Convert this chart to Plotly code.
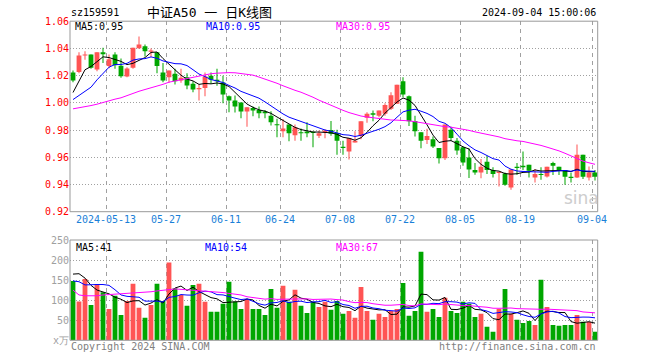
import pandas as pd
import plotly.graph_objects as go

# ---------------- data ----------------
holidays = ["2024-05-01", "2024-05-02", "2024-05-03", "2024-06-10"]
dates = [d.strftime("%Y-%m-%d") for d in pd.bdate_range("2024-04-30", "2024-09-04")
         if d.strftime("%Y-%m-%d") not in holidays]

opens = [1.0223, 1.0226, 1.0348, 1.0356, 1.0245, 1.0371, 1.0270, 1.0356, 1.0273, 1.0194,
         1.0258, 1.0402, 1.0415, 1.0376, 1.0371, 1.0223, 1.0189, 1.0214, 1.0164, 1.0189,
         1.0140, 1.0100, 1.0110, 1.0199, 1.0169, 1.0150, 1.0049, 1.0017, 1.0002, 0.9936,
         0.9963, 0.9948, 0.9936, 0.9906, 0.9840, 0.9791, 0.9840, 0.9761, 0.9783, 0.9789,
         0.9783, 0.9759, 0.9783, 0.9801, 0.9779, 0.9678, 0.9643, 0.9708, 0.9757, 0.9890,
         0.9923, 0.9906, 0.9919, 0.9956, 0.9993, 1.0159, 1.0049, 0.9866, 0.9783, 0.9727,
         0.9732, 0.9668, 0.9592, 0.9803, 0.9722, 0.9673, 0.9598, 0.9506, 0.9489, 0.9568,
         0.9506, 0.9485, 0.9481, 0.9378, 0.9531, 0.9538, 0.9545, 0.9452, 0.9477, 0.9459,
         0.9558, 0.9531, 0.9506, 0.9452, 0.9452, 0.9619, 0.9452, 0.9489]
highs = [1.0238, 1.0371, 1.0380, 1.0356, 1.0371, 1.0405, 1.0356, 1.0371, 1.0326, 1.0262,
         1.0405, 1.0488, 1.0429, 1.0400, 1.0371, 1.0292, 1.0238, 1.0250, 1.0250, 1.0218,
         1.0159, 1.0135, 1.0223, 1.0223, 1.0250, 1.0199, 1.0054, 1.0054, 1.0002, 0.9968,
         0.9973, 0.9973, 0.9948, 0.9938, 0.9884, 0.9882, 0.9840, 0.9840, 0.9811, 0.9857,
         0.9789, 0.9796, 0.9806, 0.9866, 0.9803, 0.9722, 0.9742, 0.9791, 0.9864, 0.9931,
         0.9943, 0.9943, 0.9997, 1.0078, 1.0133, 1.0189, 1.0054, 0.9906, 0.9783, 0.9809,
         0.9752, 0.9668, 0.9840, 0.9825, 0.9742, 0.9678, 0.9666, 0.9558, 0.9587, 0.9612,
         0.9526, 0.9489, 0.9489, 0.9514, 0.9558, 0.9643, 0.9545, 0.9514, 0.9526, 0.9531,
         0.9568, 0.9531, 0.9506, 0.9489, 0.9693, 0.9619, 0.9533, 0.9506]
lows = [1.0152, 1.0218, 1.0317, 1.0250, 1.0233, 1.0292, 1.0255, 1.0250, 1.0184, 1.0189,
        1.0250, 1.0398, 1.0341, 1.0336, 1.0218, 1.0152, 1.0148, 1.0135, 1.0148, 1.0100,
        1.0078, 1.0017, 1.0049, 1.0140, 1.0126, 0.9997, 0.9931, 0.9929, 0.9887, 0.9825,
        0.9901, 0.9887, 0.9887, 0.9833, 0.9747, 0.9747, 0.9717, 0.9722, 0.9722, 0.9747,
        0.9673, 0.9742, 0.9740, 0.9759, 0.9619, 0.9619, 0.9584, 0.9708, 0.9732, 0.9853,
        0.9864, 0.9894, 0.9906, 0.9948, 0.9993, 1.0041, 0.9830, 0.9752, 0.9666, 0.9698,
        0.9668, 0.9555, 0.9580, 0.9722, 0.9619, 0.9538, 0.9447, 0.9472, 0.9445, 0.9477,
        0.9452, 0.9386, 0.9391, 0.9361, 0.9472, 0.9506, 0.9452, 0.9415, 0.9434, 0.9452,
        0.9469, 0.9469, 0.9398, 0.9415, 0.9448, 0.9440, 0.9430, 0.9430]
closes = [1.0164, 1.0348, 1.0356, 1.0258, 1.0371, 1.0358, 1.0321, 1.0277, 1.0196, 1.0253,
          1.0405, 1.0429, 1.0380, 1.0385, 1.0270, 1.0164, 1.0238, 1.0159, 1.0184, 1.0127,
          1.0098, 1.0110, 1.0194, 1.0169, 1.0159, 1.0061, 1.0017, 0.9973, 0.9936, 0.9968,
          0.9943, 0.9923, 0.9923, 0.9857, 0.9835, 0.9811, 0.9776, 0.9820, 0.9776, 0.9776,
          0.9779, 0.9776, 0.9796, 0.9772, 0.9722, 0.9668, 0.9742, 0.9722, 0.9864, 0.9919,
          0.9912, 0.9943, 0.9985, 1.0056, 1.0133, 1.0061, 0.9864, 0.9791, 0.9722, 0.9757,
          0.9680, 0.9592, 0.9840, 0.9742, 0.9649, 0.9562, 0.9510, 0.9489, 0.9531, 0.9506,
          0.9477, 0.9489, 0.9398, 0.9510, 0.9521, 0.9526, 0.9501, 0.9477, 0.9469, 0.9531,
          0.9538, 0.9501, 0.9457, 0.9448, 0.9619, 0.9457, 0.9489, 0.9457]
volumes = [148, 97, 153, 88, 140, 120, 78, 111, 63, 98,
           141, 81, 56, 88, 141, 98, 194, 130, 113, 86,
           138, 141, 96, 71, 71, 91, 146, 97, 78, 103,
           78, 78, 63, 128, 81, 136, 96, 126, 86, 68,
           96, 83, 96, 76, 98, 66, 73, 56, 133, 73,
           51, 66, 58, 73, 78, 143, 61, 73, 221, 71,
           78, 58, 106, 73, 68, 96, 91, 58, 66, 34,
           21, 78, 128, 66, 51, 43, 48, 38, 151, 83,
           38, 36, 38, 38, 63, 46, 46, 21]

ma5_head = [1.0076, 1.0164, 1.0243, 1.0267]
ma10_head = [1.0024, 1.0054, 1.0090, 1.0115, 1.0169, 1.0218, 1.0262, 1.0282, 1.0282]
ma30_head = [0.9956, 0.9963, 0.9970, 0.9980, 0.9990, 1.0003, 1.0017, 1.0027, 1.0037, 1.0054,
             1.0071, 1.0085, 1.0098, 1.0109, 1.0120, 1.0136, 1.0152, 1.0161, 1.0169, 1.0177,
             1.0184, 1.0192, 1.0203, 1.0214, 1.0218, 1.0221, 1.0222, 1.0221, 1.0216]
vma5_head = [165, 166, 155, 137]
vma10_head = [148, 146, 138, 139, 139, 139, 137, 126, 113]
vma30_head = [125, 113, 111, 111, 111, 113, 114, 115, 116, 116,
              117, 118, 120, 121, 123, 125, 127, 128, 127, 126,
              125, 124, 123, 121, 120, 119, 117, 115, 113]

tick_dates = ["2024-05-13", "2024-05-27", "2024-06-11", "2024-06-24", "2024-07-08",
              "2024-07-22", "2024-08-05", "2024-08-19", "2024-09-04"]
tick_labels = ["2024-05-13", "05-27", "06-11", "06-24", "07-08", "07-22", "08-05", "08-19", "09-04"]
price_ticks = [0.92, 0.94, 0.96, 0.98, 1.00, 1.02, 1.04, 1.06]
vol_ticks = [0, 50, 100, 150, 200, 250]
vol_tick_text = ["x万", "50", "100", "150", "200", "250"]


def moving(series, n, head):
    return head + [sum(series[i - n + 1:i + 1]) / n for i in range(n - 1, len(series))]


ma5 = moving(closes, 5, ma5_head)
ma10 = moving(closes, 10, ma10_head)
ma30 = moving(closes, 30, ma30_head)
vma5 = moving(volumes, 5, vma5_head)
vma10 = moving(volumes, 10, vma10_head)
vma30 = moving(volumes, 30, vma30_head)

# ---------------- style ----------------
W, H = 660, 360
RED = "#FF5454"
GREEN = "#00A600"
GRID = "#A0A0A0"
MONO = "DejaVu Sans Mono"


def px(x):
    return x / W


def py(y):
    return 1 - y / H


X0, X1 = 70, 597.7
MT, MB = 21.2, 211.7
VT, VB = 240.0, 340.3

idx = list(range(len(dates)))
up = [c >= o for o, c in zip(opens, closes)]
colors = [RED if u else GREEN for u in up]
MIN_BODY = 0.0008
body_base = [min(o, c) for o, c in zip(opens, closes)]
body_h = [max(abs(c - o), MIN_BODY) for o, c in zip(opens, closes)]
wick_h = [h - l for h, l in zip(highs, lows)]

fig = go.Figure()
fig.add_trace(go.Bar(x=idx, y=wick_h, base=lows, width=0.17, marker=dict(color=colors, line=dict(width=0)),
                     xaxis="x", yaxis="y", hoverinfo="skip"))
fig.add_trace(go.Bar(x=idx, y=body_h, base=body_base, width=0.8, marker=dict(color=colors, line=dict(width=0)),
                     xaxis="x", yaxis="y", hoverinfo="skip"))
for ys, col in [(ma5, "#000000"), (ma10, "#0000FF"), (ma30, "#FF00FF")]:
    fig.add_trace(go.Scatter(x=idx, y=ys, mode="lines", line=dict(color=col, width=1),
                             xaxis="x", yaxis="y", hoverinfo="skip"))
fig.add_trace(go.Bar(x=idx, y=volumes, width=0.8, marker=dict(color=colors, line=dict(width=0)),
                     xaxis="x2", yaxis="y2", hoverinfo="skip"))
for ys, col in [(vma5, "#000000"), (vma10, "#0000FF"), (vma30, "#FF00FF")]:
    fig.add_trace(go.Scatter(x=idx, y=ys, mode="lines", line=dict(color=col, width=1),
                             xaxis="x2", yaxis="y2", hoverinfo="skip"))

tickvals = [dates.index(d) - 0.5 for d in tick_dates]
xr = [-0.5, -0.5 + (X1 - X0) / 6.0]
xdom = [px(X0), px(X1)]

common_x = dict(range=xr, domain=xdom, tickmode="array", tickvals=tickvals, showgrid=True,
                gridcolor=GRID, griddash="4px,4px", gridwidth=1, zeroline=False, showline=False,
                ticks="", fixedrange=True, automargin=False)
fig.update_layout(
    template="none",
    width=W, height=H, margin=dict(l=0, r=0, t=0, b=0, pad=0, autoexpand=False),
    paper_bgcolor="white", plot_bgcolor="white", showlegend=False, barmode="overlay",
    hovermode=False,
    xaxis=dict(**common_x, anchor="y", ticktext=tick_labels,
               tickfont=dict(family=MONO, size=10, color="#1A7FD8")),
    xaxis2=dict(**common_x, anchor="y2", showticklabels=False),
    yaxis=dict(domain=[py(MB), py(MT)], range=[0.92, 1.06], tickmode="array",
               tickvals=price_ticks, ticktext=[f"{v:.2f}" for v in price_ticks],
               tickfont=dict(family=MONO, size=10, color="#FF0000"), showgrid=True,
               gridcolor=GRID, griddash="1px,2px", zeroline=False, showline=False, ticks="",
               anchor="x", fixedrange=True, automargin=False),
    yaxis2=dict(domain=[py(VB), py(VT)], range=[0, 250], tickmode="array",
                tickvals=vol_ticks, ticktext=vol_tick_text,
                tickfont=dict(family=MONO, size=10, color="#A0A0A0"), showgrid=True,
                gridcolor=GRID, griddash="1px,2px", zeroline=False, showline=False, ticks="",
                anchor="x2", fixedrange=True, automargin=False),
)

for t, b in [(MT, MB), (VT, VB)]:
    fig.add_shape(type="rect", xref="paper", yref="paper", x0=px(X0), x1=px(X1),
                  y0=py(b), y1=py(t), line=dict(color="#999999", width=1), fillcolor="rgba(0,0,0,0)")


def txt(x, y, s, color="#000000", size=10, anchor="left", family=MONO, **kw):
    fig.add_annotation(x=px(x), y=py(y), xref="paper", yref="paper", text=s, showarrow=False,
                       xanchor=anchor, yanchor="middle", borderpad=0,
                       font=dict(family=family, size=size, color=color), **kw)


txt(70, 13, "sz159591")
txt(209, 13, "中证A50 一 日K线图", size=13, anchor="center", family="DejaVu Sans Mono, Noto Sans CJK SC")
txt(597, 13, "2024-09-04 15:00:06", anchor="right")
txt(74, 27, "MA5:0.95")
txt(205, 27, "MA10:0.95", color="#0000FF")
txt(335, 27, "MA30:0.95", color="#FF00FF")
txt(75, 247, "MA5:41")
txt(204, 247, "MA10:54", color="#0000FF")
txt(335, 247, "MA30:67", color="#FF00FF")
txt(70, 346, "Copyright 2024 SINA.COM", color="#808080")
txt(597, 346, "http://finance.sina.com.cn", color="#808080", anchor="right")
txt(581, 198, "sina", color="#C8C8C8", size=17, anchor="center", family="DejaVu Sans",
    opacity=0.9)

# page body margin set to 0 so the 660x360 figure fills the window exactly
fig.write_html("out.html", config={"displayModeBar": False, "staticPlot": True},
               post_script="document.body.style.margin='0px';")
